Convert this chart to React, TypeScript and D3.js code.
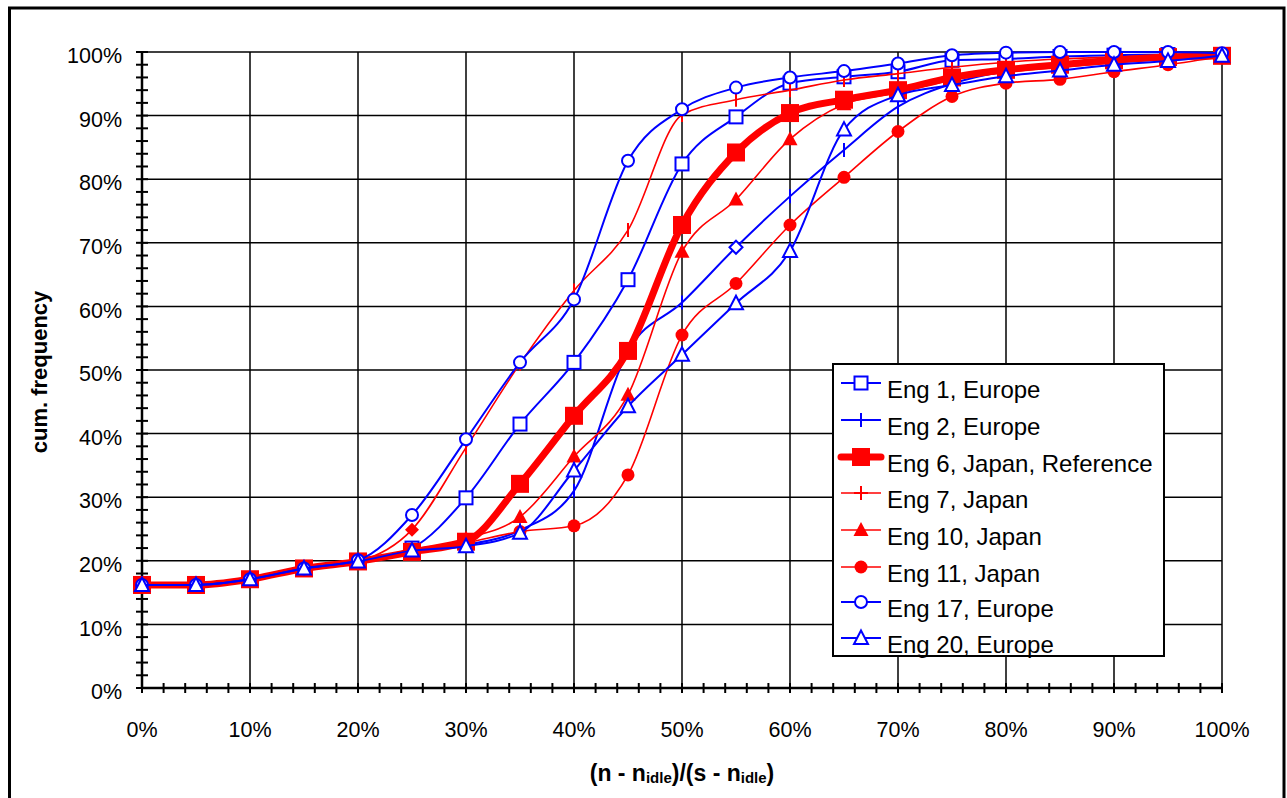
import React from "react";
import * as d3 from "d3";

// ---------- data ----------
const xValues = [0, 5, 10, 15, 20, 25, 30, 35, 40, 45, 50, 55, 60, 65, 70, 75, 80, 85, 90, 95, 100];

const eng1 = [16.2, 16.2, 17.1, 18.8, 19.9, 22.0, 29.9, 41.5, 51.2, 64.2, 82.4, 89.8, 95.1, 96.1, 96.9, 98.7, 98.9, 99.3, 99.5, 99.6, 99.6];
const eng2 = [16.2, 16.2, 17.1, 18.8, 19.9, 21.5, 22.5, 24.8, 31.0, 53.0, 60.6, 69.3, 77.3, 84.6, 91.4, 95.0, 97.0, 98.0, 98.8, 99.2, 99.5];
const eng6 = [16.2, 16.2, 17.1, 18.8, 19.9, 21.4, 23.0, 32.1, 42.8, 53.0, 72.8, 84.2, 90.4, 92.5, 94.0, 96.0, 97.2, 98.0, 98.7, 99.2, 99.4];
const eng7 = [16.2, 16.2, 17.1, 18.8, 19.9, 24.9, 37.8, 51.0, 62.5, 72.0, 90.1, 92.5, 94.0, 95.6, 96.6, 97.6, 98.4, 98.9, 99.2, 99.4, 99.5];
const eng10 = [16.2, 16.2, 17.1, 18.8, 19.9, 21.8, 23.5, 26.9, 36.4, 46.1, 68.6, 76.8, 86.3, 91.8, 93.6, 95.6, 96.8, 97.6, 98.3, 98.9, 99.4];
const eng11 = [16.2, 16.2, 17.1, 18.8, 19.9, 21.3, 22.8, 24.6, 25.5, 33.5, 55.5, 63.6, 72.8, 80.3, 87.5, 93.0, 95.1, 95.7, 96.9, 98.0, 99.3];
const eng17 = [16.2, 16.2, 17.1, 18.8, 20.1, 27.2, 39.1, 51.2, 61.1, 82.9, 91.0, 94.4, 96.0, 97.0, 98.2, 99.5, 99.9, 100, 100, 100, 99.8];
const eng20 = [16.2, 16.2, 17.1, 18.8, 19.9, 21.6, 22.3, 24.4, 34.2, 44.3, 52.4, 60.5, 68.7, 87.8, 93.2, 94.8, 96.2, 97.1, 98.0, 98.6, 99.4];

const seriesNames = [
  "Eng 1, Europe",
  "Eng 2, Europe",
  "Eng 6, Japan, Reference",
  "Eng 7, Japan",
  "Eng 10, Japan",
  "Eng 11, Japan",
  "Eng 17, Europe",
  "Eng 20, Europe",
];
const seriesValues = [eng1, eng2, eng6, eng7, eng10, eng11, eng17, eng20];

// points where the source shows a diamond marker instead of the series marker: [series index, x]
const diamondPoints = [
  [3, 25],
  [1, 55],
];

const xTicks = [0, 10, 20, 30, 40, 50, 60, 70, 80, 90, 100];
const yTicks = [0, 10, 20, 30, 40, 50, 60, 70, 80, 90, 100];
const minorTicks = d3.range(0, 101, 2);

// ---------- styles ----------
const BLUE = "#0000ff";
const RED = "#ff0000";
type Style = { color: string; width: number; marker: string; filled: boolean };
const styles: Style[] = [
  { color: BLUE, width: 2, marker: "squareOpen", filled: false },
  { color: BLUE, width: 2, marker: "plus", filled: false },
  { color: RED, width: 7, marker: "squareBig", filled: true },
  { color: RED, width: 1.6, marker: "plus", filled: true },
  { color: RED, width: 1.6, marker: "triFilled", filled: true },
  { color: RED, width: 1.6, marker: "circFilled", filled: true },
  { color: BLUE, width: 2, marker: "circOpen", filled: false },
  { color: BLUE, width: 2, marker: "triOpen", filled: false },
];

const FONT = "'Liberation Sans', Arial, Helvetica, sans-serif";

function Marker({ kind, color, x, y, legend }: { kind: string; color: string; x: number; y: number; legend?: boolean }) {
  switch (kind) {
    case "squareOpen":
      return <rect x={x - 6.5} y={y - 6.5} width={13} height={13} fill="#fff" stroke={color} strokeWidth={2} />;
    case "squareBig":
      return <rect x={x - 9} y={y - 9} width={18} height={18} fill={color} />;
    case "plus":
      return (
        <g stroke={color} strokeWidth={2}>
          <line x1={x} x2={x} y1={y - 7} y2={y + 7} />
          {legend ? <line x1={x - 7} x2={x + 7} y1={y} y2={y} /> : null}
        </g>
      );
    case "triFilled":
      return <path d={`M${x},${y - 8}L${x + 7.5},${y + 6}L${x - 7.5},${y + 6}Z`} fill={color} />;
    case "triOpen":
      return <path d={`M${x},${y - 7.5}L${x + 7},${y + 6}L${x - 7},${y + 6}Z`} fill="#fff" stroke={color} strokeWidth={2} />;
    case "circFilled":
      return <circle cx={x} cy={y} r={6.5} fill={color} />;
    case "circOpen":
      return <circle cx={x} cy={y} r={6} fill="#fff" stroke={color} strokeWidth={2} />;
    case "diamondFilled":
      return <path d={`M${x},${y - 7}L${x + 7},${y}L${x},${y + 7}L${x - 7},${y}Z`} fill={color} />;
    case "diamondOpen":
      return <path d={`M${x},${y - 6.5}L${x + 6.5},${y}L${x},${y + 6.5}L${x - 6.5},${y}Z`} fill="#fff" stroke={color} strokeWidth={2} />;
  }
  return null;
}

export default function App() {
  const W = 1287;
  const H = 798;
  const left = 142, right = 1222, top = 52, bottom = 688;
  const x = d3.scaleLinear().domain([0, 100]).range([left, right]);
  const y = d3.scaleLinear().domain([0, 100]).range([bottom, top]);

  const line = d3
    .line<number>()
    .x((_, i) => x(xValues[i]))
    .y((d) => y(d))
    .curve(d3.curveMonotoneX);

  const legendX = 833, legendY = 364, legendW = 331, legendH = 292;
  const legendRows = [383, 420, 457, 493, 530, 567, 602, 638];

  const markerKind = (si: number, xv: number) => {
    const isDiamond = diamondPoints.some((p) => p[0] === si && p[1] === xv);
    if (isDiamond) return styles[si].filled ? "diamondFilled" : "diamondOpen";
    return styles[si].marker;
  };

  return (
    <svg
      width={W}
      height={H}
      style={{ position: "absolute", left: 0, top: 0, background: "#fff" }}
      fontFamily={FONT}
    >
      <rect x={0} y={0} width={W} height={H} fill="#fff" />
      {/* outer frame */}
      <rect x={9.5} y={8} width={1274.5} height={800} fill="none" stroke="#000" strokeWidth={3} />

      {/* gridlines */}
      {xTicks.filter((t) => t > 0).map((t) => (
        <line key={"gx" + t} x1={x(t)} x2={x(t)} y1={top} y2={bottom} stroke="#000" strokeWidth={1.5} />
      ))}
      {yTicks.filter((t) => t > 0).map((t) => (
        <line key={"gy" + t} x1={left} x2={right} y1={y(t)} y2={y(t)} stroke="#000" strokeWidth={1.5} />
      ))}

      {/* axes */}
      <line x1={left} x2={left} y1={top} y2={bottom + 1} stroke="#000" strokeWidth={2.5} />
      <line x1={left - 1} x2={right} y1={bottom} y2={bottom} stroke="#000" strokeWidth={2.5} />
      {minorTicks.map((t) => (
        <line key={"my" + t} x1={left - 6} x2={left + 6} y1={y(t)} y2={y(t)} stroke="#000" strokeWidth={2} />
      ))}
      {minorTicks.map((t) => (
        <line key={"mx" + t} x1={x(t)} x2={x(t)} y1={bottom - 5} y2={bottom + 5} stroke="#000" strokeWidth={2} />
      ))}

      {/* tick labels */}
      {yTicks.map((t) => (
        <text key={"ly" + t} x={122} y={y(t) + 3.5} dy="0.36em" textAnchor="end" fontSize={21.5} fill="#000">
          {t}%
        </text>
      ))}
      {xTicks.map((t) => (
        <text key={"lx" + t} x={x(t)} y={729} dy="0.36em" textAnchor="middle" fontSize={21.5} fill="#000">
          {t}%
        </text>
      ))}

      {/* axis titles */}
      <text
        transform={`translate(47,${372}) rotate(-90)`}
        textAnchor="middle"
        fontWeight="bold"
        fontSize={22}
        fill="#000"
      >
        cum. frequency
      </text>
      <text x={682} y={781} textAnchor="middle" fontWeight="bold" fontSize={23} fill="#000">
        (n - n<tspan fontSize={15} dy={2}>idle</tspan>
        <tspan dy={-2}>)/(s - n</tspan>
        <tspan fontSize={15} dy={2}>idle</tspan>
        <tspan dy={-2}>)</tspan>
      </text>

      {/* series */}
      {seriesValues.map((vals, si) => {
        const st = styles[si];
        return (
          <g key={"s" + si}>
            <path
              d={line(vals) || ""}
              fill="none"
              stroke={st.color}
              strokeWidth={st.width}
              strokeLinejoin="round"
              strokeLinecap="round"
            />
            {vals.map((v, i) => (
              <Marker key={i} kind={markerKind(si, xValues[i])} color={st.color} x={x(xValues[i])} y={y(v)} />
            ))}
          </g>
        );
      })}

      {/* legend */}
      <rect x={legendX} y={legendY} width={legendW} height={legendH} fill="#fff" stroke="#000" strokeWidth={2} />
      {seriesNames.map((name, i) => {
        const st = styles[i];
        const ry = legendRows[i];
        return (
          <g key={"lg" + i}>
            <line
              x1={841}
              x2={881}
              y1={ry}
              y2={ry}
              stroke={st.color}
              strokeWidth={st.width}
              strokeLinecap={st.width > 3 ? "round" : "butt"}
            />
            <Marker kind={st.marker} color={st.color} x={861} y={ry} legend />
            <text x={887} y={ry + 15} fontSize={24} fill="#000">
              {name}
            </text>
          </g>
        );
      })}
    </svg>
  );
}
